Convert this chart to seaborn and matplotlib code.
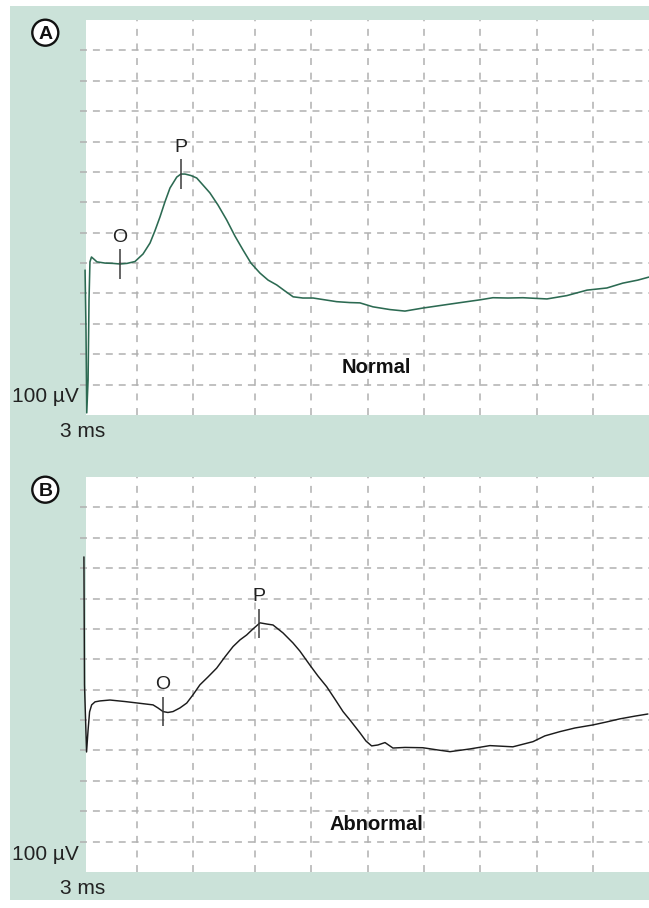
import numpy as np
import pandas as pd
import matplotlib.pyplot as plt
from matplotlib.patches import Rectangle, Ellipse
import seaborn as sns

# ----------------------------------------
# Data: traces (time in ms, amplitude in uV above panel floor)
# ----------------------------------------
normal_ms = [-0.05, 0.0, 0.04, 0.11, 0.16, 0.21, 0.29, 0.42, 0.58, 1.01, 1.43, 1.81,
             2.18, 2.60, 3.03, 3.40, 3.66, 3.93, 4.19, 4.46, 4.82, 5.04, 5.26, 5.58,
             5.88, 6.21, 6.58, 7.01, 7.47, 7.91, 8.34, 8.76, 9.24, 9.67, 10.13, 10.57,
             11.0, 11.52, 12.06, 12.69, 13.31, 14.02, 14.55, 15.24, 16.14, 16.94, 17.89,
             19.33, 20.12, 20.92, 21.61, 22.41, 23.20, 24.48, 25.54, 26.61, 27.66,
             28.51, 29.31, 29.9]
normal_uv = [477, 280, 7, 115, 379, 504, 520, 513, 504, 500, 499, 497,
             499, 505, 530, 566, 606, 652, 701, 747, 783, 793, 793, 788,
             780, 757, 731, 691, 642, 589, 543, 500, 467, 444, 428, 408,
             389, 385, 385, 379, 373, 370, 369, 356, 347, 342, 352,
             365, 372, 379, 386, 385, 386, 382, 393, 411, 418,
             434, 444, 454]

abnormal_ms = [-0.11, -0.08, 0.03, 0.11, 0.19, 0.30, 0.48, 0.74, 1.27, 2.07, 2.75,
               3.56, 3.82, 4.09, 4.35, 4.62, 4.99, 5.35, 5.68, 6.05, 6.48, 6.94,
               7.38, 7.81, 8.18, 8.53, 8.87, 9.24, 9.61, 9.93, 10.46, 10.99, 11.36,
               11.89, 12.32, 12.78, 13.22, 13.65, 14.02, 14.55, 14.87, 15.17, 15.50,
               15.88, 16.30, 16.94, 17.89, 18.64, 19.33, 20.39, 21.45, 22.67, 23.74,
               24.37, 25.17, 25.97, 26.92, 27.66, 28.35, 29.15, 29.84]
abnormal_uv = [1037, 616, 395, 467, 527, 550, 560, 563, 566, 561, 556,
               550, 540, 528, 525, 528, 540, 556, 583, 616, 642, 671,
               708, 742, 764, 780, 800, 820, 816, 813, 787, 754, 727,
               681, 645, 610, 569, 528, 500, 458, 431, 415, 418,
               426, 408, 410, 409, 402, 396, 405, 416, 412, 429,
               448, 462, 474, 484, 494, 504, 513, 520]

# O and P latencies (ms)
normal_op = {"O": 1.81, "P": 5.04}
abnormal_op = {"O": 4.09, "P": 9.19}

grid_ms = [2.71, 5.68, 8.97, 11.95, 14.97, 17.95, 20.92, 23.95, 26.92]
grid_uv = [100, 200, 300, 400, 500, 600, 700, 800, 900, 1000, 1100, 1200]

# ----------------------------------------
# Style
# ----------------------------------------
sns.set_style("white")
plt.rcParams["font.family"] = ["Liberation Sans", "DejaVu Sans"]
plt.rcParams["lines.scale_dashes"] = False

W, H = 649, 908
mint = "#cbe2d9"
grid_col = "#b0b0b0"


def fx(x):
    return x / W


def fy(y):
    return 1 - y / H


fig = plt.figure(figsize=(W / 100, H / 100), dpi=100)
fig.patch.set_facecolor("white")
fig.add_artist(Rectangle((fx(10), fy(900)), fx(639), 894 / H, transform=fig.transFigure,
                         facecolor=mint, edgecolor="none", zorder=-5))

panels = [
    ("A", 20, normal_ms, normal_uv, normal_op, "#2c6a52", "Normal", 1.15),
    ("B", 477, abnormal_ms, abnormal_uv, abnormal_op, "#1c1c1c", "Abnormal", 1.05),
]

for letter, top, t, v, op, col, name, lw in panels:
    ax = fig.add_axes([fx(86), fy(top + 395), 563 / W, 395 / H])
    ax.set_facecolor("white")
    ax.set_xlim(0, 29.9)
    ax.set_ylim(0, 1300)
    for s in ax.spines.values():
        s.set_visible(False)
    ax.set_xticks([])
    ax.set_yticks([])

    # dashed grid
    ax.hlines(grid_uv, -0.32, 29.9, colors=grid_col, lw=1.1,
              linestyles=[(0, (5.0, 4.3))], clip_on=False, zorder=1)
    ax.vlines(grid_ms, 0, 1300, colors=grid_col, lw=1.1,
              linestyles=[(0, (5.0, 5.5))], zorder=1)

    df = pd.DataFrame({"ms": t, "uv": v})
    sns.lineplot(data=df, x="ms", y="uv", ax=ax, color=col, lw=lw,
                 sort=False, estimator=None, zorder=3)
    ax.lines[-1].set_clip_on(False)
    ax.set_xlabel("")
    ax.set_ylabel("")

    # O / P markers
    for lab, tm in op.items():
        yv = np.interp(tm, t, v)
        ax.vlines(tm, yv - 48, yv + 48, colors="#3a3a3a", lw=1.1, zorder=4)
        ax.annotate(lab, (tm, yv), xytext=(0, 16), textcoords="offset points",
                    ha="center", va="baseline", fontsize=14, color="#222222")

    ax.text(0.515, 0.12, name, transform=ax.transAxes, ha="center", va="center",
            fontsize=14.5, fontweight="bold", color="#111111")

    # panel letter in a circle
    cy = top + 12.7
    fig.add_artist(Ellipse((fx(45.3), fy(cy)), 26 / W, 26 / H, transform=fig.transFigure,
                           facecolor="white", edgecolor="#111111", lw=1.7, zorder=5))
    fig.text(fx(45.3), fy(cy), letter, ha="center", va="center_baseline",
             fontsize=14, fontweight="bold", color="#111111", zorder=6)

    # scale labels
    fig.text(fx(79), fy(top + 377), "100 \u00b5V", ha="right", va="center",
             fontsize=15, color="#222222")
    fig.text(fx(83), fy(top + 412), "3 ms", ha="center", va="center",
             fontsize=15, color="#222222")

fig.savefig("out.png", dpi=100)
